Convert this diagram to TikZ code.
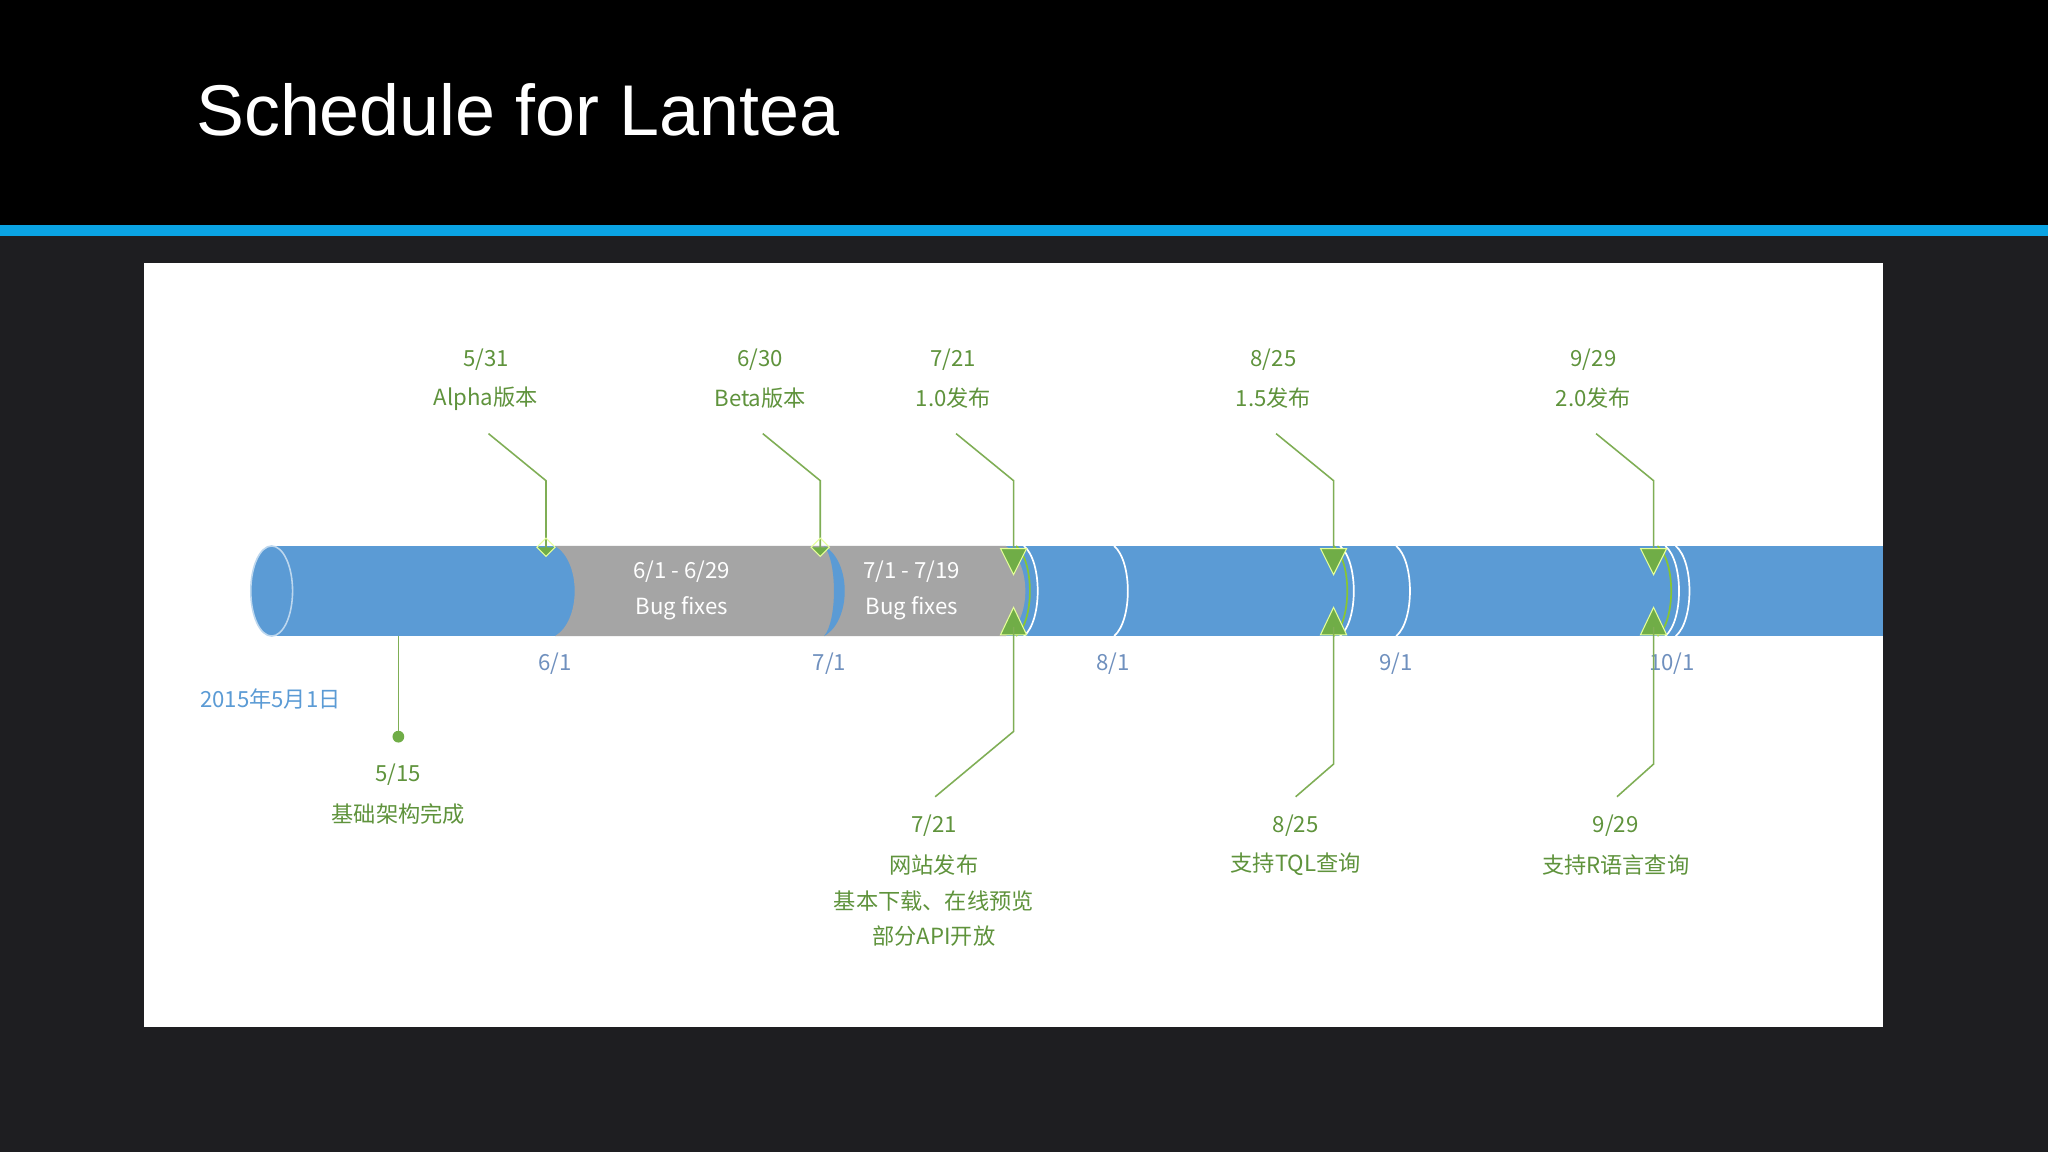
\documentclass[tikz,border=0pt]{standalone}
\usepackage{fontspec}
\setmainfont{Liberation Sans}
\newfontfamily\cjk{Noto Sans CJK SC}
\begin{document}
\begin{tikzpicture}[x=1pt,y=-1pt,
  gtxt/.style={font=\cjk\fontsize{17}{17}\selectfont, text=green!45!black!60!lime, inner sep=0pt, align=center},
  btxt/.style={font=\cjk\fontsize{17}{17}\selectfont, text=datec, inner sep=0pt},
  wtxt/.style={font=\cjk\fontsize{17}{17}\selectfont, text=white, inner sep=0pt},
  lead/.style={draw=leadc, line width=1.2pt},
  tri/.style={fill=msc, draw=lime!40, line width=0.8pt},
  sepline/.style={draw=white, line width=1.3pt}]
\definecolor{bg}{HTML}{1E1E21}
\definecolor{stripe}{HTML}{0AA3E3}
\definecolor{barb}{HTML}{5B9BD5}
\definecolor{barg}{HTML}{A5A5A5}
\definecolor{msc}{HTML}{70AD47}
\definecolor{leadc}{HTML}{7FAE55}
\definecolor{datec}{HTML}{6F90BE}
\colorlet{gt}{msc!85!black}
\tikzset{gtxt/.append style={text=gt}}
\useasboundingbox (0,0) rectangle (1568,882);
\fill[bg] (0,0) rectangle (1568,882);
\fill[black] (0,0) rectangle (1568,172);
\fill[stripe] (0,172) rectangle (1568,181);
\node[anchor=base west, inner sep=0pt, text=white, font=\fontsize{55}{55}\selectfont] (title) at (150,104) {Schedule for Lantea};
\fill[white] (110,201) rectangle (1442,786);
% bar
\fill[barb] (208,418) rectangle (1442,487);
\fill[barb] (208,452.5) ellipse [x radius=16, y radius=34.5];
\draw[barb!40, line width=1.2pt] (208,452.5) ellipse [x radius=16, y radius=34.5];
\fill[barg] (425,418) .. controls (445,430) and (445,475) .. (425,487) -- (770,487) .. controls (790,475) and (790,430) .. (770,418) -- cycle;
\fill[barb] (631,418) .. controls (652,430) and (652,475) .. (631,487) .. controls (641,475) and (641,430) .. (631,418) -- cycle;
\draw[sepline] (784,418) .. controls (798,430) and (798,475) .. (784,487);
\draw[msc!70!lime, line width=1.3pt] (778,418) .. controls (792,430) and (792,475) .. (778,487);
\foreach \x in {853,1069,1283,1026} {\draw[sepline] (\x,418) .. controls (\x+14,430) and (\x+14,475) .. (\x,487);}
\draw[msc!70!lime, line width=1.3pt] (1021,418) .. controls (1035,430) and (1035,475) .. (1021,487);
\draw[msc!70!lime, line width=1.3pt] (1269,418) .. controls (1283,430) and (1283,475) .. (1269,487);
\draw[sepline] (1275,418) .. controls (1289,430) and (1289,475) .. (1275,487);
% bar texts
\node[wtxt] (g1a) at (522,438) {6/1 - 6/29};
\node[wtxt] (g1b) at (522,466) {Bug fixes};
\node[wtxt] (g2a) at (698,438) {7/1 - 7/19};
\node[wtxt] (g2b) at (698,466) {Bug fixes};
% month labels
\node[btxt] (m6) at (425,508) {6/1};
\node[btxt] (m7) at (635,508) {7/1};
\node[btxt] (m8) at (852,508) {8/1};
\node[btxt] (m9) at (1069,508) {9/1};
\node[btxt] (m10) at (1280,508) {10/1};
\node[btxt, text=barb] (start) at (207,535) {2015年5月1日};
% top milestones
\foreach \n/\x/\d/\t in {a/418/5\slash 31/Alpha版本, b/628/6\slash 30/Beta版本, c/776/7\slash 21/1.0发布, d/1021/8\slash 25/1.5发布, e/1266/9\slash 29/2.0发布} {
  \node[gtxt] (d\n) at (\x-46,275) {\d};
  \node[gtxt] (t\n) at (\x-46,305) {\t};
  \coordinate (s\n) at (\x-44,332);
  \coordinate (k\n) at (\x,368);
  \coordinate (e\n) at (\x,420);
  \draw[lead] (s\n) -- (k\n) -- (e\n);
}
\foreach \n in {a,b} {\fill[msc] (e\n) ++(0,-1) -- ++(7,0) -- ++(-7,7) -- ++(-7,-7) -- cycle;
  \draw[lime!40, line width=0.8pt] (e\n) ++(0,-8) -- ++(7,7) -- ++(-7,7) -- ++(-7,-7) -- cycle;}
\foreach \x in {776,1021,1266} {
  \filldraw[tri] (\x-10,420) -- (\x+10,420) -- (\x,440) -- cycle;
  \filldraw[tri] (\x-10,486) -- (\x+10,486) -- (\x,465) -- cycle;}
% bottom milestones
\coordinate (b1) at (305,487); \coordinate (b1e) at (305,564);
\draw[lead] (b1) -- (b1e);
\fill[msc] (b1e) circle (4.5);
\node[gtxt] (d15) at (305,593) {5/15};
\node[gtxt] (t15) at (305,623) {基础架构完成};
\foreach \n/\x/\y/\lx in {f/776/560/716, g/1021/585/992, h/1266/585/1238} {
  \coordinate (bs\n) at (\x,480); \coordinate (bk\n) at (\x,\y); \coordinate (be\n) at (\lx,610);
  \draw[lead] (bs\n) -- (bk\n) -- (be\n);}
\node[gtxt] (df) at (715,632) {7/21};
\node[gtxt] (tf) at (715,662) {网站发布};
\node[gtxt] (tf2) at (715,690) {基本下载、在线预览};
\node[gtxt] (tf3) at (715,717) {部分API开放};
\node[gtxt] (dg) at (992,632) {8/25};
\node[gtxt] (tg) at (992,662) {支持TQL查询};
\node[gtxt] (dh) at (1237,632) {9/29};
\node[gtxt] (th) at (1237,662) {支持R语言查询};
\end{tikzpicture}
\end{document}
